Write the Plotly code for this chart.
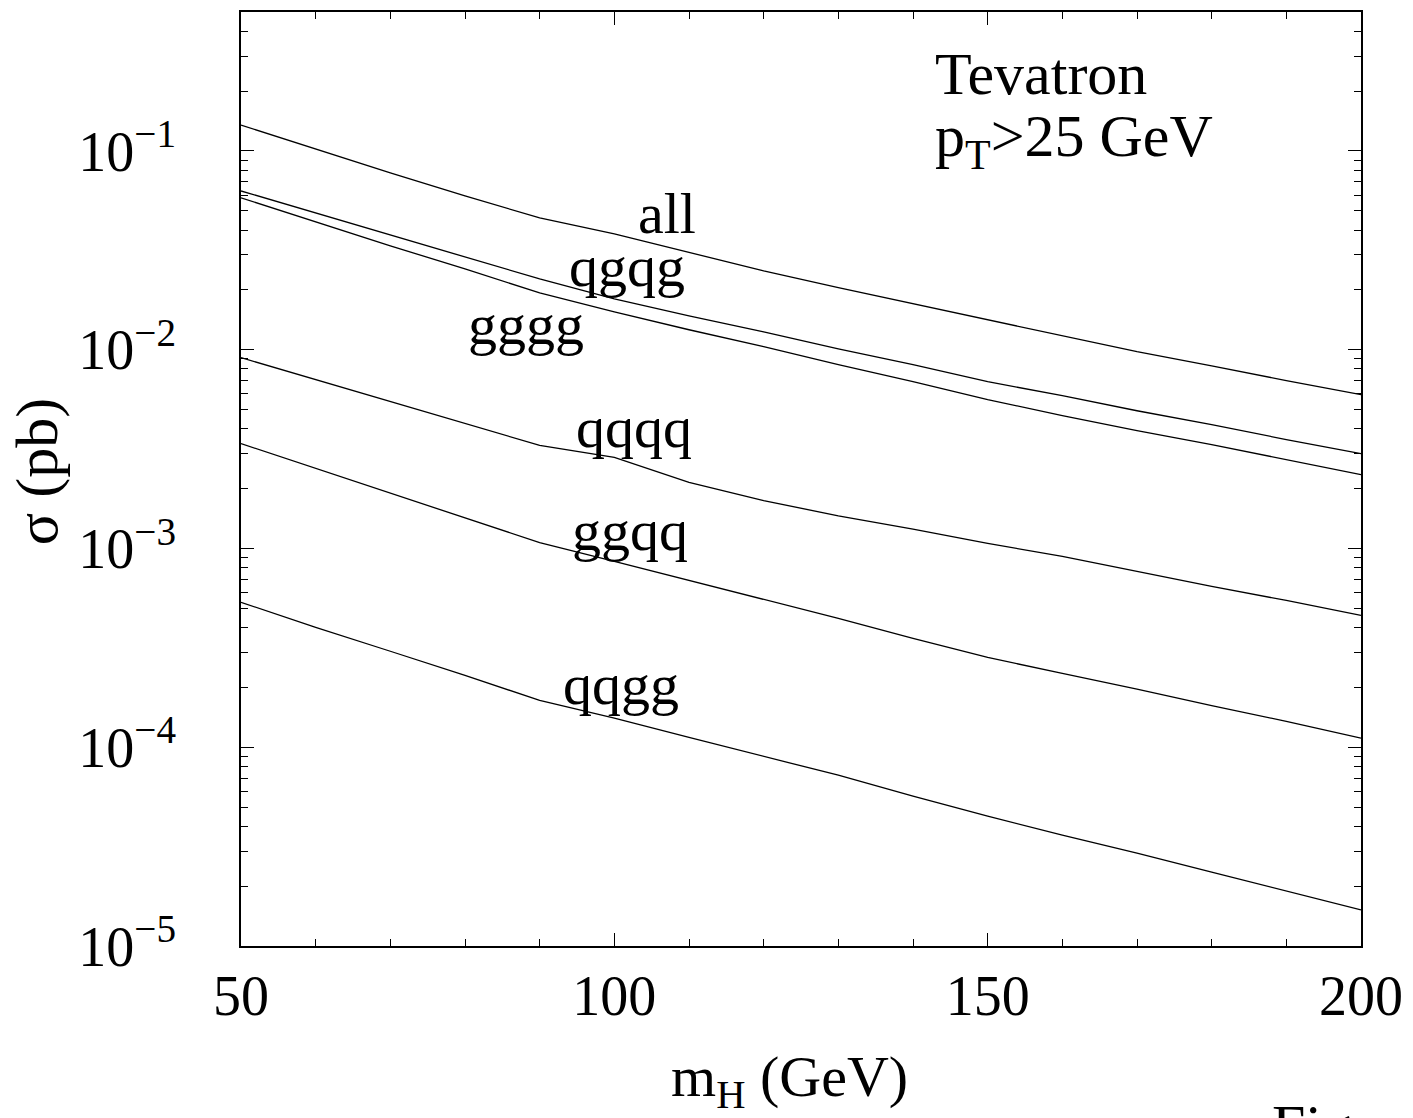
import plotly.graph_objects as go
import math

# ---- data ----
m_H = [50, 60, 70, 80, 90, 100, 110, 120, 130, 140, 150, 160, 170, 180, 190, 200]

sigma_all = [0.135, 0.102, 0.0775, 0.0594, 0.046, 0.0383, 0.031, 0.0249, 0.0205,
             0.0170, 0.01416, 0.01175, 0.00977, 0.0083, 0.00699, 0.00594]
sigma_qgqg = [0.0629, 0.0488, 0.0378, 0.0293, 0.0227, 0.0180, 0.0148, 0.0123, 0.0101,
              0.00841, 0.00690, 0.00587, 0.00493, 0.00420, 0.00353, 0.00300]
sigma_gggg = [0.0581, 0.0440, 0.0333, 0.0255, 0.0193, 0.0155, 0.0126, 0.01035, 0.00841,
              0.00690, 0.00561, 0.00466, 0.00392, 0.00333, 0.00280, 0.00235]
sigma_qqqq = [0.00912, 0.00706, 0.00548, 0.00425, 0.00330, 0.00287, 0.00215, 0.00174,
              0.00146, 0.00125, 0.00106, 0.000912, 0.000766, 0.000644, 0.000548, 0.000461]
sigma_ggqq = [0.00337, 0.00253, 0.00191, 0.00143, 0.00107, 0.000861, 0.000690, 0.000554,
              0.000445, 0.000353, 0.000283, 0.000235, 0.000196, 0.000162, 0.000135, 0.000111]
sigma_qqgg = [0.000536, 0.000401, 0.000304, 0.000230, 0.000172, 0.000140, 0.000112,
              0.0000901, 0.0000723, 0.0000567, 0.0000450, 0.0000361, 0.0000293,
              0.0000235, 0.0000189, 0.0000152]

series_names = ["all", "qgqg", "gggg", "qqqq", "ggqq", "qqgg"]
series_values = [sigma_all, sigma_qgqg, sigma_gggg, sigma_qqqq, sigma_ggqq, sigma_qqgg]

# label anchor positions (m_H in GeV, log10 sigma)
label_x = [107.0, 101.7, 88.2, 102.6, 102.1, 100.9]
label_y = [-1.317, -1.583, -1.874, -2.392, -2.910, -3.683]

y_tickvals = [1e-5, 1e-4, 1e-3, 1e-2, 1e-1]
y_ticktext = ["10<sup>\u22125</sup>", "10<sup>\u22124</sup>", "10<sup>\u22123</sup>",
              "10<sup>\u22122</sup>", "10<sup>\u22121</sup>"]
x_tickvals = [50, 100, 150, 200]

FONT = "Liberation Serif"

fig = go.Figure()
for name, vals in zip(series_names, series_values):
    fig.add_trace(go.Scatter(x=m_H, y=vals, mode="lines", name=name,
                             line=dict(color="black", width=1.3), showlegend=False))

for name, lx, ly in zip(series_names, label_x, label_y):
    fig.add_annotation(x=lx, y=ly, xref="x", yref="y", text=name, showarrow=False,
                       xanchor="center", yanchor="middle",
                       font=dict(family=FONT, size=58, color="black"))

fig.add_annotation(x=142.7, y=-0.613, xref="x", yref="y", text="Tevatron", showarrow=False,
                   xanchor="left", yanchor="middle", font=dict(family=FONT, size=60, color="black"))
fig.add_annotation(x=142.7, y=-0.950, xref="x", yref="y", text="p<sub>T</sub>>25 GeV",
                   showarrow=False, xanchor="left", yanchor="middle",
                   font=dict(family=FONT, size=60, color="black"))

# axis titles
fig.add_annotation(x=0.49, y=-0.144, xref="paper", yref="paper", text="m<sub>H</sub> (GeV)",
                   showarrow=False, xanchor="center", yanchor="middle",
                   font=dict(family=FONT, size=58, color="black"))
fig.add_annotation(x=-0.182, y=0.5075, xref="paper", yref="paper", text="\u03c3 (pb)",
                   showarrow=False, xanchor="center", yanchor="middle", textangle=-90,
                   font=dict(family=FONT, size=60, color="black"))
fig.add_annotation(x=0.919, y=-0.1555, xref="paper", yref="paper", text="Figure",
                   showarrow=False, xanchor="left", yanchor="top",
                   font=dict(family=FONT, size=60, color="black"))

axis_common = dict(showline=True, linecolor="black", linewidth=1.5, mirror="allticks",
                   ticks="inside", ticklen=13, tickwidth=1.2, tickcolor="black",
                   showgrid=False, zeroline=False,
                   tickfont=dict(family=FONT, size=56, color="black"))

fig.update_xaxes(range=[50, 200], tickmode="array", tickvals=x_tickvals,
                 ticklabelstandoff=0,
                 minor=dict(ticks="inside", ticklen=7, tickwidth=1.2, tickcolor="black",
                            dtick=10, tick0=50, showgrid=False),
                 **axis_common)
fig.update_yaxes(type="log", range=[-5, math.log10(0.5)], tickmode="array",
                 tickvals=y_tickvals, ticktext=y_ticktext, ticklabelstandoff=52,
                 minor=dict(ticks="inside", ticklen=7, tickwidth=1.2, tickcolor="black",
                            dtick="D1", showgrid=False),
                 **axis_common)

fig.update_layout(width=1413, height=1118, plot_bgcolor="white", paper_bgcolor="white",
                  margin=dict(l=241, r=52, t=12, b=172, autoexpand=False),
                  font=dict(family=FONT, color="black"))

fig.write_html("out.html")
